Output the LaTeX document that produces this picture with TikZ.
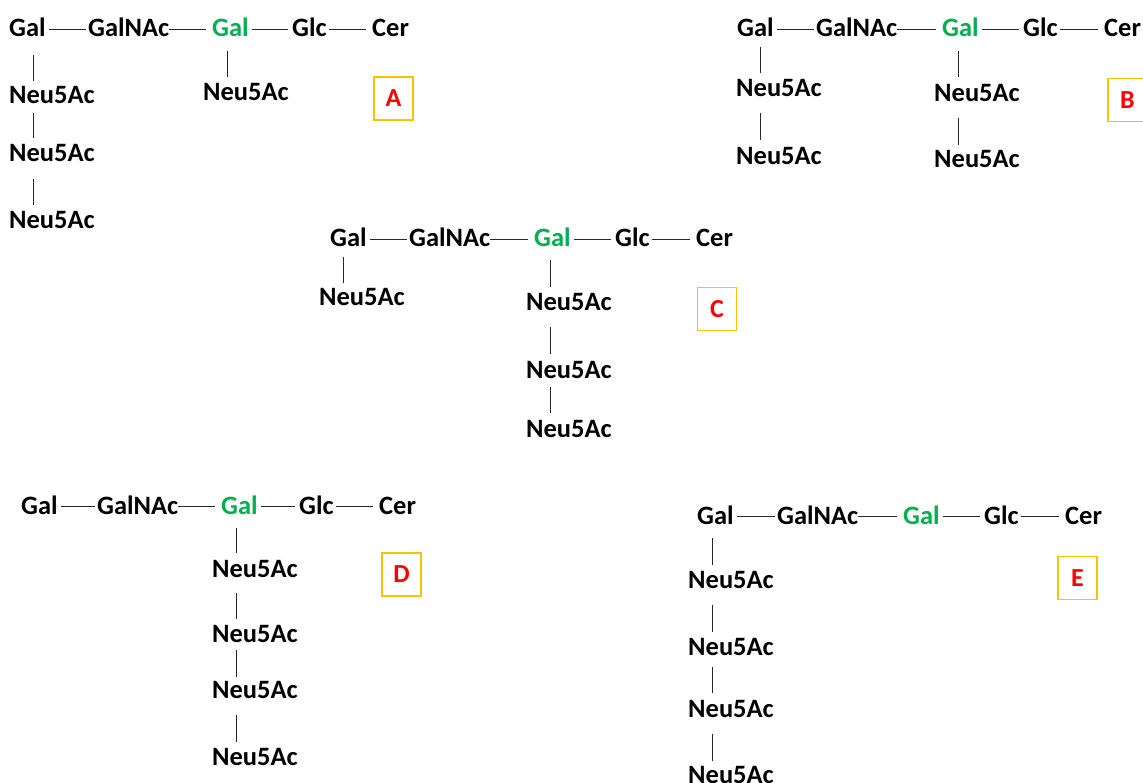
\documentclass[tikz,border=0pt]{standalone}
\usepackage{fontspec}
\setmainfont{Carlito}
\usetikzlibrary{calc}
\definecolor{galgreen}{HTML}{00B050}
\definecolor{tagred}{HTML}{FF0000}
\definecolor{tagframe}{HTML}{FFC000}
\tikzset{
  sugar/.style={anchor=base west, inner sep=0pt, text height=17.5pt, text depth=0pt,
                font=\fontsize{26.5}{30}\selectfont\bfseries},
  hub/.style={sugar, text=galgreen},
  link/.style={draw=black!85, line width=0.8pt},
  tag/.style={draw=tagframe, line width=1.2pt, text=tagred, minimum width=39pt,
              minimum height=43pt, inner sep=0pt, font=\fontsize{26}{30}\selectfont\bfseries},
}
% horizontal bond between two residues of a chain (#3, #4: gaps at either end)
\newcommand\hbond[4]{\draw[link] let \p1=(#1.base east), \p2=(#2.base west) in
  (\x1+#3pt,\y1+7.5pt) -- (\x2-#4pt,\y1+7.5pt);}
% vertical bond from residue #1 down to branch residue #2 (#3, #4: gaps)
\newcommand\vbond[4]{\draw[link] let \p1=(#2.base west), \p2=(#1.base west) in
  (\x1+24.5pt,\y2-#3pt) -- (\x1+24.5pt,\y1+17.5pt+#4pt);}
% Gal - GalNAc - Gal - Glc - Cer backbone; #1 prefix, #2 baseline, #3..#7 x positions
\newcommand\chain[7]{%
  \node[sugar] (#1gal) at (#3,#2) {Gal};
  \node[sugar] (#1nac) at (#4,#2) {GalNAc};
  \node[hub]   (#1hub) at (#5,#2) {Gal};
  \node[sugar] (#1glc) at (#6,#2) {Glc};
  \node[sugar] (#1cer) at (#7,#2) {Cer};
  \hbond{#1gal}{#1nac}{3}{2}
  \hbond{#1nac}{#1hub}{0}{6}
  \hbond{#1hub}{#1glc}{3}{4}
  \hbond{#1glc}{#1cer}{2}{6.5}
}
\begin{document}
\begin{tikzpicture}[x=1pt,y=-1pt]
\useasboundingbox (0,0) rectangle (1143,783);

% ---- A ----
\chain{A}{37}{9}{88}{212}{292}{372}
\node[sugar] (An1) at (9,104) {Neu5Ac};
\node[sugar] (An2) at (9,162) {Neu5Ac};
\node[sugar] (An3) at (9,229) {Neu5Ac};
\node[sugar] (Am1) at (203,101) {Neu5Ac};
\vbond{Agal}{An1}{18}{5.5}
\vbond{An1}{An2}{9}{6.5}
\vbond{An2}{An3}{17}{6.5}
\vbond{Ahub}{Am1}{14}{6.5}
\node[tag] (tagA) at (393.5,98.5) {A};

% ---- B ----
\chain{B}{37}{737}{816}{942}{1023}{1104}
\node[sugar] (Bn1) at (736,97) {Neu5Ac};
\node[sugar] (Bn2) at (736,165) {Neu5Ac};
\node[sugar] (Bm1) at (934,102) {Neu5Ac};
\node[sugar] (Bm2) at (934,168) {Neu5Ac};
\vbond{Bgal}{Bn1}{10}{6.5}
\vbond{Bn1}{Bn2}{16}{7.5}
\vbond{Bhub}{Bm1}{14}{7.5}
\vbond{Bm1}{Bm2}{16}{5.5}
\node[tag] (tagB) at (1127.5,100) {B};

% ---- C ----
\chain{C}{247}{330}{409}{534}{615}{696}
\node[sugar] (Cn1) at (319,306) {Neu5Ac};
\node[sugar] (Cm1) at (526,311) {Neu5Ac};
\node[sugar] (Cm2) at (526,379) {Neu5Ac};
\node[sugar] (Cm3) at (526,437) {Neu5Ac};
\vbond{Cgal}{Cn1}{10}{5.5}
\vbond{Chub}{Cm1}{13}{6.5}
\vbond{Cm1}{Cm2}{16}{7.5}
\vbond{Cm2}{Cm3}{8}{6.5}
\node[tag] (tagC) at (717,309) {C};

% ---- D ----
\chain{D}{514}{21}{97}{221}{299}{379}
\node[sugar] (Dm1) at (212,577) {Neu5Ac};
\node[sugar] (Dm2) at (212,642) {Neu5Ac};
\node[sugar] (Dm3) at (212,698) {Neu5Ac};
\node[sugar] (Dm4) at (212,765) {Neu5Ac};
\vbond{Dhub}{Dm1}{14}{6.5}
\vbond{Dm1}{Dm2}{16}{5.5}
\vbond{Dm2}{Dm3}{8}{3.5}
\vbond{Dm3}{Dm4}{17}{5.5}
\node[tag] (tagD) at (401.5,574.5) {D};

% ---- E ----
\chain{E}{524}{697}{777}{903}{984}{1065}
\node[sugar] (En1) at (688,588) {Neu5Ac};
\node[sugar] (En2) at (688,655) {Neu5Ac};
\node[sugar] (En3) at (688,717) {Neu5Ac};
\node[sugar] (En4) at (688,783) {Neu5Ac};
\vbond{Egal}{En1}{14}{5.5}
\vbond{En1}{En2}{17}{5.5}
\vbond{En2}{En3}{12}{6.5}
\vbond{En3}{En4}{17}{4.5}
\node[tag] (tagE) at (1077.5,578) {E};
\end{tikzpicture}
\end{document}
